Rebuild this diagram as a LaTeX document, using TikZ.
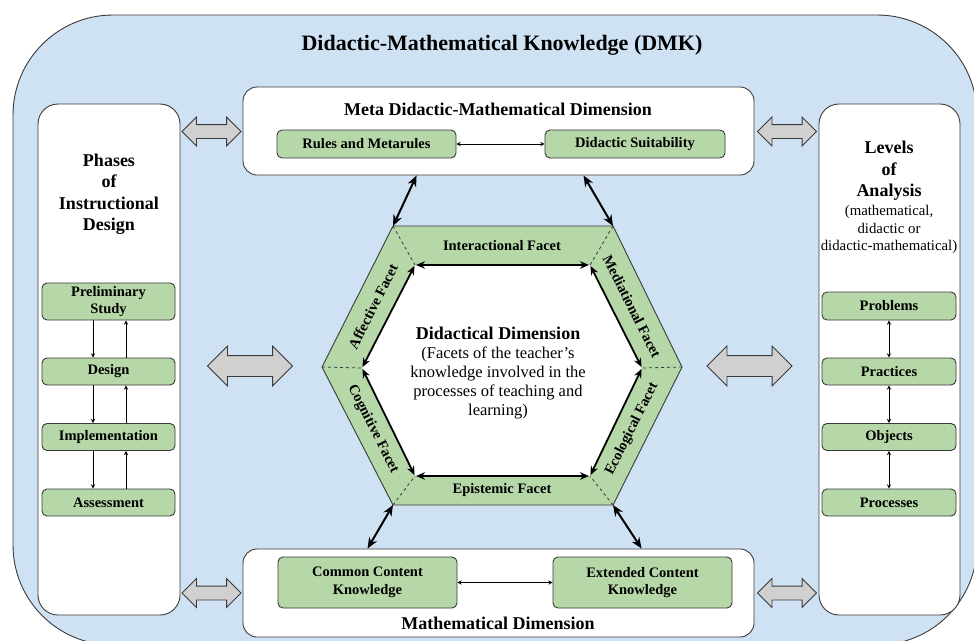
\documentclass[tikz,border=0pt]{standalone}
\usepackage{fontspec}
\setmainfont{Liberation Serif}
\usetikzlibrary{positioning}
\usetikzlibrary{arrows.meta}
\usetikzlibrary{shapes.arrows}
\definecolor{dmkblue}{HTML}{CFE2F3}
\definecolor{facetgreen}{HTML}{B6D7A8}
\definecolor{arrowgrey}{HTML}{D0D0D0}
\definecolor{edgegrey}{HTML}{3A3A3A}
\tikzset{>=stealth,
  panel/.style = {draw=edgegrey,fill=white,line width=0.9pt,rounded corners=#1,inner sep=0pt},
  panel/.default = 14pt,
  greenbox/.style = {draw=edgegrey,fill=facetgreen,line width=0.9pt,rounded corners=5pt,
                     inner sep=0pt,align=center,font=\bfseries\fontsize{14.5}{17.5}\selectfont},
  heading/.style = {align=center,inner sep=0pt,font=\bfseries\fontsize{18}{21.5}\selectfont},
  facetlabel/.style = {inner sep=0pt,font=\bfseries\fontsize{14.5}{17}\selectfont},
  greyarrow/.style = {double arrow,draw=edgegrey,fill=arrowgrey,line width=0.9pt,inner sep=0pt},
  small grey/.style = {greyarrow,inner ysep=6.5pt,double arrow head extend=7.5pt,minimum height=59pt},
  big grey/.style = {greyarrow,inner ysep=10pt,double arrow head extend=9.5pt,minimum height=85pt},
  link/.style = {{Stealth[length=11pt,width=9pt]}-{Stealth[length=11pt,width=9pt]},line width=2pt},
  facetlink/.style = {{Stealth[length=9pt,width=7.5pt]}-{Stealth[length=9pt,width=7.5pt]},line width=1.8pt},
  step arrow/.style = {->,line width=0.9pt}
}
\begin{document}
\begin{tikzpicture}[x=1pt,y=-1pt]
  \useasboundingbox (0,0) rectangle (974,640);
  \clip (0,0) rectangle (974,640);
  % outer frame
  \draw[fill=dmkblue,draw=edgegrey,line width=0.9pt,rounded corners=100pt] (13,15) rectangle (977,645);
  \node[inner sep=0pt,font=\bfseries\fontsize{22}{26}\selectfont] (title) at (502,45)
    {Didactic-Mathematical Knowledge (DMK)};

  % meta didactic-mathematical dimension
  \node[panel,minimum width=511pt,minimum height=88pt] (meta) at (498.5,131) {};
  \node[heading] (metatitle) at (498,109) {Meta Didactic-Mathematical Dimension};
  \node[greenbox,minimum width=179pt,minimum height=28pt] (rules) at (366.5,144) {Rules and Metarules};
  \node[greenbox,minimum width=180pt,minimum height=28pt] (suit) at (635,144) {Didactic Suitability};
  \draw[<->,line width=0.9pt] (rules) -- (suit);

  % mathematical dimension
  \node[panel,minimum width=511pt,minimum height=88pt] (math) at (498.5,593) {};
  \node[heading] (mathtitle) at (498,623) {Mathematical Dimension};
  \node[greenbox,minimum width=179pt,minimum height=51pt] (common) at (367.5,582.5) {Common Content\\Knowledge};
  \node[greenbox,minimum width=179pt,minimum height=51pt] (extended) at (642.5,582.5) {Extended Content\\Knowledge};
  \draw[<->,line width=0.9pt] (common) -- (extended);

  % phases of instructional design
  \node[panel=20pt,minimum width=142pt,minimum height=511pt] (phases) at (109,359.5) {};
  \node[heading] (phasestitle) at (109,194) {Phases\\of\\Instructional\\Design};
  \node[greenbox,minimum width=133pt,minimum height=37pt] (prelim) at (108.5,301.5) {Preliminary\\Study};
  \node[greenbox,minimum width=133pt,minimum height=27pt] (design) at (108.5,371.5) {Design};
  \node[greenbox,minimum width=133pt,minimum height=27pt] (implement) at (108.5,437) {Implementation};
  \node[greenbox,minimum width=133pt,minimum height=27pt] (assess) at (108.5,502.5) {Assessment};
  \foreach \a/\b in {prelim/design,design/implement,implement/assess}{
    \draw[step arrow] ([xshift=-15.5pt]\a.south) -- ([xshift=-15.5pt]\b.north);
    \draw[step arrow] ([xshift=17.5pt]\b.north) -- ([xshift=17.5pt]\a.south);
  }

  % levels of analysis
  \node[panel=20pt,minimum width=141pt,minimum height=511pt] (levels) at (889.5,359.5) {};
  \node[heading] (levelstitle) at (889,171) {Levels\\of\\Analysis};
  \node[align=center,inner sep=0pt,font=\fontsize{14.8}{17.5}\selectfont] (levelsnote) at (889,229.5)
    {(mathematical,\\didactic or\\didactic-mathematical)};
  \node[greenbox,minimum width=134pt,minimum height=28pt] (problems) at (889,306) {Problems};
  \node[greenbox,minimum width=134pt,minimum height=27pt] (practices) at (889,371.5) {Practices};
  \node[greenbox,minimum width=134pt,minimum height=27pt] (objects) at (889,437) {Objects};
  \node[greenbox,minimum width=134pt,minimum height=27pt] (processes) at (889,502.5) {Processes};
  \foreach \a/\b in {problems/practices,practices/objects,objects/processes}
    \draw[<->,line width=0.9pt] (\a) -- (\b);

  % grey arrows between the dimensions
  \node[small grey] (gtl) at (211.5,131.5) {};
  \node[small grey] (gtr) at (787,131.5) {};
  \node[small grey] (gbl) at (211.5,593) {};
  \node[small grey] (gbr) at (787,593) {};
  \node[big grey] (gml) at (250,366) {};
  \node[big grey] (gmr) at (749.5,366) {};

  % didactical dimension
  \coordinate (oTL) at (393,226);
  \coordinate (oTR) at (613,226);
  \coordinate (oR) at (682,367);
  \coordinate (oBR) at (613,505);
  \coordinate (oBL) at (393,505);
  \coordinate (oL) at (322,367);
  \coordinate (iTL) at (415,265);
  \coordinate (iTR) at (590,265);
  \coordinate (iR) at (642,368);
  \coordinate (iBR) at (590,476);
  \coordinate (iBL) at (415,476);
  \coordinate (iL) at (362,368);
  \filldraw[fill=facetgreen,draw=edgegrey,line width=0.9pt]
    (oTL) -- (oTR) -- (oR) -- (oBR) -- (oBL) -- (oL) -- cycle;
  \fill[white] (iTL) -- (iTR) -- (iR) -- (iBR) -- (iBL) -- (iL) -- cycle;
  \foreach \v in {TL,TR,R,BR,BL,L}
    \draw[dashed,edgegrey,line width=0.8pt] (o\v) -- (i\v);
  \foreach \a/\b in {TL/TR,TR/R,R/BR,BR/BL,BL/L,L/TL}
    \draw[facetlink,shorten <=1pt,shorten >=1pt] (i\a) -- (i\b);
  \node[facetlabel] (interactional) at (502,245.5) {Interactional Facet};
  \node[facetlabel] (epistemic) at (502,490.5) {Epistemic Facet};
  \node[facetlabel,rotate=63.3] (affective) at (373,306.5) {Affective Facet};
  \node[facetlabel,rotate=-63.3] (mediational) at (632,306.5) {Mediational Facet};
  \node[facetlabel,rotate=-63.3] (cognitive) at (373,429) {Cognitive Facet};
  \node[facetlabel,rotate=63.3] (ecological) at (632,429) {Ecological Facet};
  \node[align=center,inner sep=0pt,font=\fontsize{16.5}{19}\selectfont] (didactical) at (498,373.5)
    {{\bfseries\fontsize{18}{19}\selectfont Didactical Dimension}\\(Facets of the teacher's\\knowledge involved in the\\processes of teaching and\\learning)};

  % links between the dimensions
  \draw[link] ([xshift=174pt]meta.south west) -- (oTL);
  \draw[link] ([xshift=341pt]meta.south west) -- (oTR);
  \draw[link] (oBL) -- ([xshift=125pt]math.north west);
  \draw[link] (oBR) -- ([xshift=399pt]math.north west);
\end{tikzpicture}
\end{document}
